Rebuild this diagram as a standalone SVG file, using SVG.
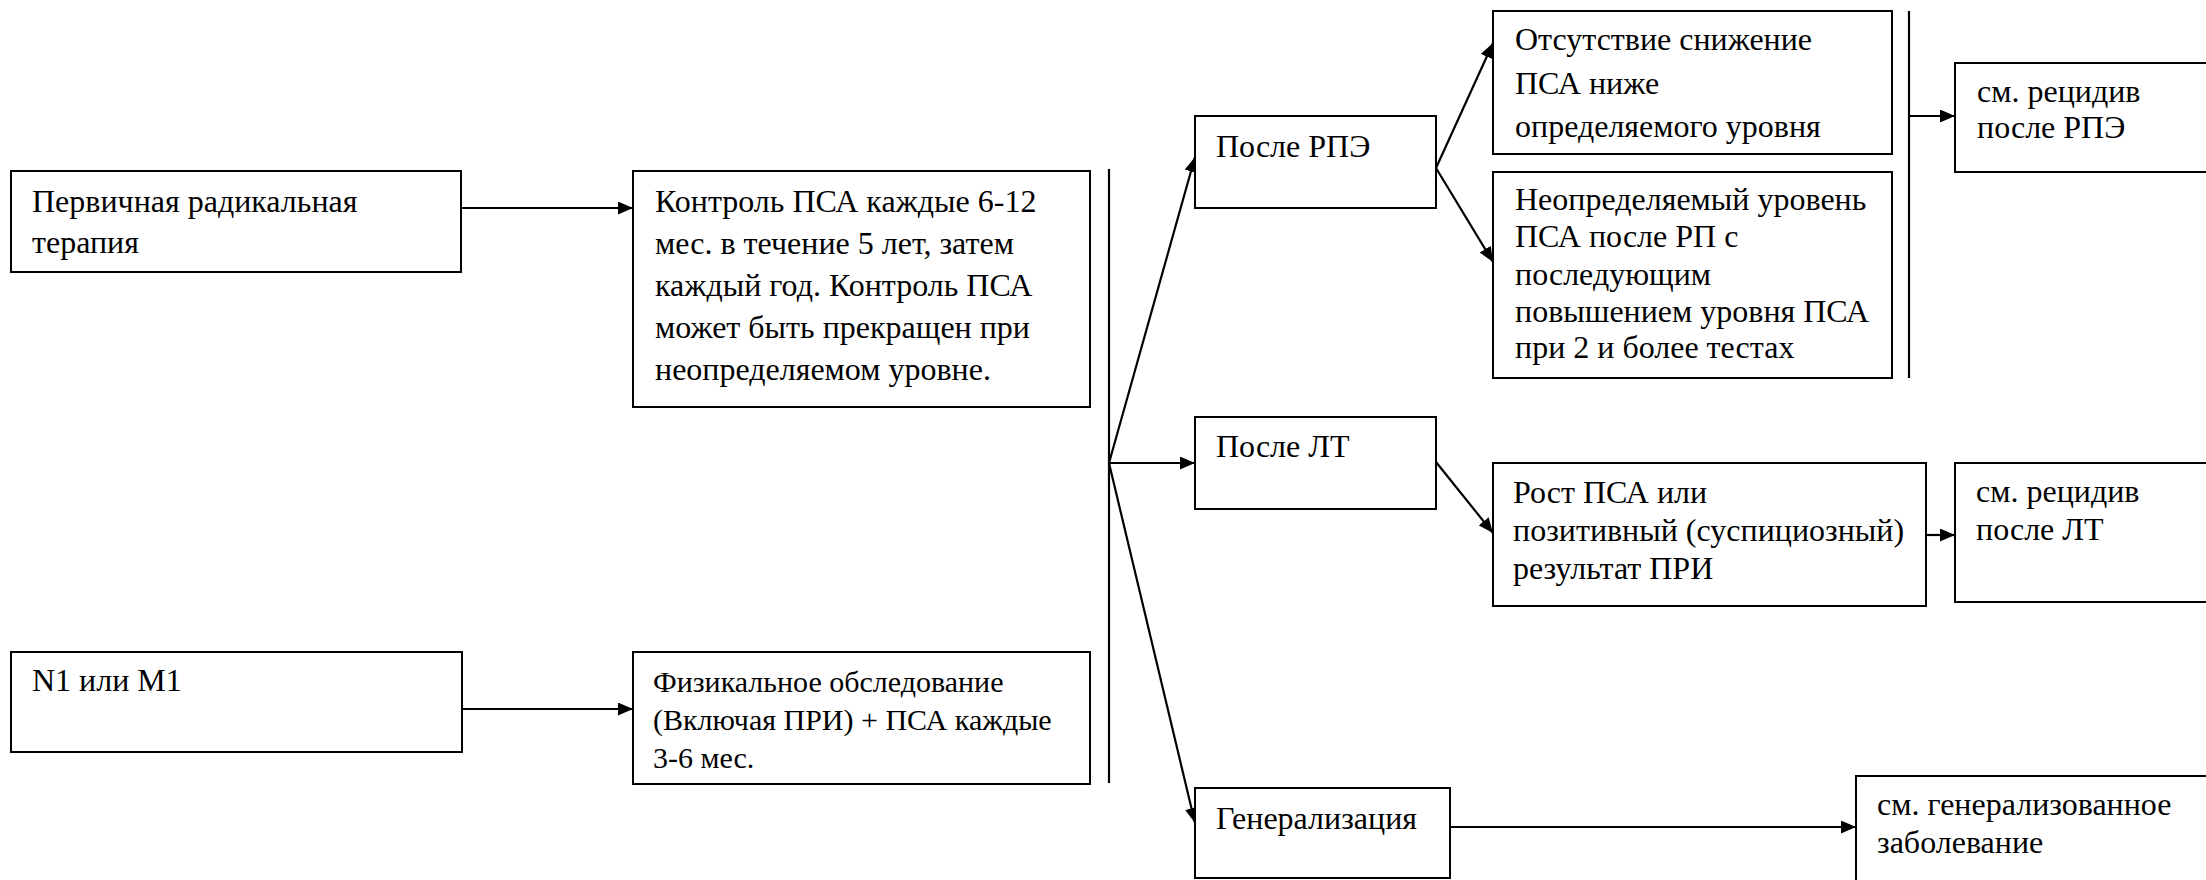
<svg xmlns="http://www.w3.org/2000/svg" width="2206" height="880" viewBox="0 0 2206 880">
<style>
.box{fill:#fff;stroke:#000;stroke-width:2}
.t{font-family:"Liberation Serif","Times New Roman",serif;font-size:32px;fill:#000}
.s{font-size:30px}
.c{fill:none;stroke:#000;stroke-width:2.2}
</style>
<defs>
<marker id="ah" markerUnits="userSpaceOnUse" markerWidth="15" markerHeight="13" refX="15" refY="6.5" orient="auto">
<path d="M0,0 L15,6.5 L0,13 z" fill="#000"/>
</marker>
</defs>
<rect width="2206" height="880" fill="#fff"/>
<g id="connectors">
<line class="c" x1="461" y1="208" x2="633" y2="208" marker-end="url(#ah)"/>
<line class="c" x1="462" y1="709" x2="633" y2="709" marker-end="url(#ah)"/>
<line class="c" x1="1109" y1="169" x2="1109" y2="783"/>
<line class="c" x1="1109" y1="463" x2="1195" y2="157" marker-end="url(#ah)"/>
<line class="c" x1="1109" y1="463" x2="1195" y2="463" marker-end="url(#ah)"/>
<line class="c" x1="1109" y1="463" x2="1195" y2="823" marker-end="url(#ah)"/>
<line class="c" x1="1436" y1="168" x2="1493" y2="43" marker-end="url(#ah)"/>
<line class="c" x1="1436" y1="168" x2="1493" y2="262" marker-end="url(#ah)"/>
<line class="c" x1="1909" y1="11" x2="1909" y2="378"/>
<line class="c" x1="1909" y1="116" x2="1955" y2="116" marker-end="url(#ah)"/>
<line class="c" x1="1436" y1="462" x2="1493" y2="533" marker-end="url(#ah)"/>
<line class="c" x1="1926" y1="535" x2="1955" y2="535" marker-end="url(#ah)"/>
<line class="c" x1="1450" y1="827" x2="1856" y2="827" marker-end="url(#ah)"/>
</g>
<g id="n1"><rect class="box" x="11" y="171" width="450" height="101"/>
<text class="t" x="32" y="212">Первичная радикальная</text><text class="t" x="32" y="253">терапия</text></g>
<g id="n2"><rect class="box" x="633" y="171" width="457" height="236"/>
<text class="t" x="655" y="212">Контроль ПСА каждые 6-12</text>
<text class="t" x="655" y="254">мес. в течение 5 лет, затем</text>
<text class="t" x="655" y="296">каждый год. Контроль ПСА</text>
<text class="t" x="655" y="338">может быть прекращен при</text>
<text class="t" x="655" y="380">неопределяемом уровне.</text></g>
<g id="n3"><rect class="box" x="11" y="652" width="451" height="100"/>
<text class="t" x="32" y="691">N1 или M1</text></g>
<g id="n4"><rect class="box" x="633" y="652" width="457" height="132"/>
<text class="t s" x="653" y="692">Физикальное обследование</text>
<text class="t s" x="653" y="730">(Включая ПРИ) + ПСА каждые</text>
<text class="t s" x="653" y="768">3-6 мес.</text></g>
<g id="n5"><rect class="box" x="1195" y="116" width="241" height="92"/>
<text class="t" x="1216" y="157">После РПЭ</text></g>
<g id="n6"><rect class="box" x="1195" y="417" width="241" height="92"/>
<text class="t" x="1216" y="457">После ЛТ</text></g>
<g id="n7"><rect class="box" x="1195" y="788" width="255" height="90"/>
<text class="t" x="1216" y="829">Генерализация</text></g>
<g id="n8"><rect class="box" x="1493" y="11" width="399" height="143"/>
<text class="t" x="1515" y="50">Отсутствие снижение</text>
<text class="t" x="1515" y="94">ПСА ниже</text>
<text class="t" x="1515" y="137">определяемого уровня</text></g>
<g id="n9"><rect class="box" x="1493" y="172" width="399" height="206"/>
<text class="t" x="1515" y="210">Неопределяемый уровень</text>
<text class="t" x="1515" y="247">ПСА после РП с</text>
<text class="t" x="1515" y="285">последующим</text>
<text class="t" x="1515" y="322">повышением уровня ПСА</text>
<text class="t" x="1515" y="358">при 2 и более тестах</text></g>
<g id="n10"><rect class="box" x="1493" y="463" width="433" height="143"/>
<text class="t" x="1513" y="503">Рост ПСА или</text>
<text class="t" x="1513" y="541">позитивный (суспициозный)</text>
<text class="t" x="1513" y="579">результат ПРИ</text></g>
<g id="n11"><rect class="box" x="1955" y="63" width="262" height="109"/>
<text class="t" x="1977" y="102">см. рецидив</text>
<text class="t" x="1977" y="138">после РПЭ</text></g>
<g id="n12"><rect class="box" x="1955" y="463" width="262" height="139"/>
<text class="t" x="1976" y="502">см. рецидив</text>
<text class="t" x="1976" y="540">после ЛТ</text></g>
<g id="n13"><rect class="box" x="1856" y="776" width="362" height="120"/>
<text class="t" x="1877" y="815">см. генерализованное</text>
<text class="t" x="1877" y="853">заболевание</text></g>
</svg>
